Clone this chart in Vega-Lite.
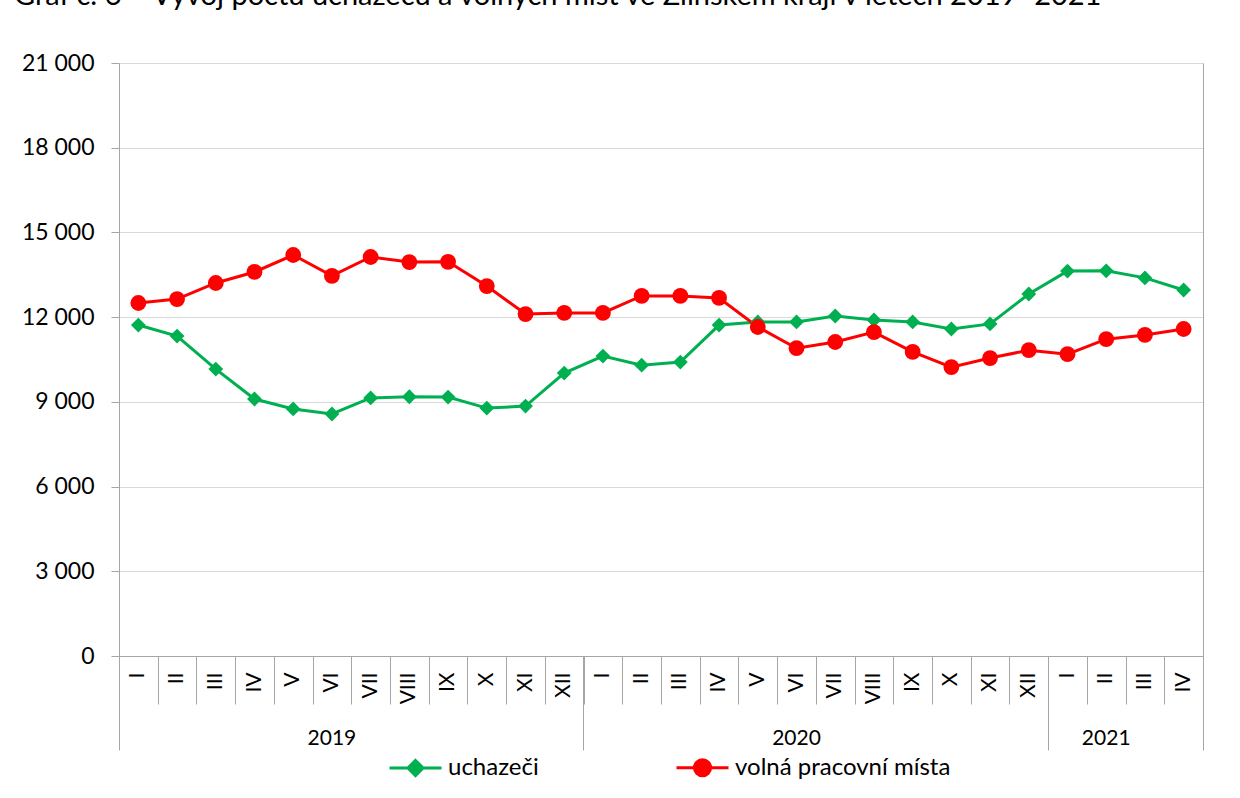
{
  "$schema": "https://vega.github.io/schema/vega-lite/v6.json",
  "width": 1084,
  "height": 593,
  "autosize": "none",
  "padding": {"left": 119, "top": 63, "right": 37, "bottom": 142},
  "background": "white",
  "title": {
    "text": "Graf č. 6 – Vývoj počtu uchazečů a volných míst ve Zlínském kraji v letech 2019–2021",
    "anchor": "start", "frame": "group", "dx": -105, "dy": -18, "offset": 0,
    "fontSize": 29, "font": "Lato", "fontWeight": "normal", "color": "black", "baseline": "alphabetic"
  },
  "config": {
    "view": {"stroke": null},
    "font": "Lato",
    "axis": {"domainColor": "#A6A6A6", "tickColor": "#A6A6A6", "labelColor": "black", "labelFont": "Lato", "title": null}
  },
  "data": {
    "values": [
      {"k": "2019-01", "s": "uchazeči", "v": 11720}, {"k": "2019-02", "s": "uchazeči", "v": 11330},
      {"k": "2019-03", "s": "uchazeči", "v": 10160}, {"k": "2019-04", "s": "uchazeči", "v": 9100},
      {"k": "2019-05", "s": "uchazeči", "v": 8750}, {"k": "2019-06", "s": "uchazeči", "v": 8570},
      {"k": "2019-07", "s": "uchazeči", "v": 9140}, {"k": "2019-08", "s": "uchazeči", "v": 9180},
      {"k": "2019-09", "s": "uchazeči", "v": 9170}, {"k": "2019-10", "s": "uchazeči", "v": 8780},
      {"k": "2019-11", "s": "uchazeči", "v": 8850}, {"k": "2019-12", "s": "uchazeči", "v": 10020},
      {"k": "2020-01", "s": "uchazeči", "v": 10620}, {"k": "2020-02", "s": "uchazeči", "v": 10300},
      {"k": "2020-03", "s": "uchazeči", "v": 10410}, {"k": "2020-04", "s": "uchazeči", "v": 11720},
      {"k": "2020-05", "s": "uchazeči", "v": 11830}, {"k": "2020-06", "s": "uchazeči", "v": 11830},
      {"k": "2020-07", "s": "uchazeči", "v": 12040}, {"k": "2020-08", "s": "uchazeči", "v": 11900},
      {"k": "2020-09", "s": "uchazeči", "v": 11830}, {"k": "2020-10", "s": "uchazeči", "v": 11580},
      {"k": "2020-11", "s": "uchazeči", "v": 11760}, {"k": "2020-12", "s": "uchazeči", "v": 12820},
      {"k": "2021-01", "s": "uchazeči", "v": 13630}, {"k": "2021-02", "s": "uchazeči", "v": 13640},
      {"k": "2021-03", "s": "uchazeči", "v": 13390}, {"k": "2021-04", "s": "uchazeči", "v": 12960},
      {"k": "2019-01", "s": "volná pracovní místa", "v": 12500}, {"k": "2019-02", "s": "volná pracovní místa", "v": 12640},
      {"k": "2019-03", "s": "volná pracovní místa", "v": 13210}, {"k": "2019-04", "s": "volná pracovní místa", "v": 13600},
      {"k": "2019-05", "s": "volná pracovní místa", "v": 14200}, {"k": "2019-06", "s": "volná pracovní místa", "v": 13460},
      {"k": "2019-07", "s": "volná pracovní místa", "v": 14130}, {"k": "2019-08", "s": "volná pracovní místa", "v": 13950},
      {"k": "2019-09", "s": "volná pracovní místa", "v": 13960}, {"k": "2019-10", "s": "volná pracovní místa", "v": 13100},
      {"k": "2019-11", "s": "volná pracovní místa", "v": 12110}, {"k": "2019-12", "s": "volná pracovní místa", "v": 12150},
      {"k": "2020-01", "s": "volná pracovní místa", "v": 12150}, {"k": "2020-02", "s": "volná pracovní místa", "v": 12750},
      {"k": "2020-03", "s": "volná pracovní místa", "v": 12750}, {"k": "2020-04", "s": "volná pracovní místa", "v": 12680},
      {"k": "2020-05", "s": "volná pracovní místa", "v": 11650}, {"k": "2020-06", "s": "volná pracovní místa", "v": 10900},
      {"k": "2020-07", "s": "volná pracovní místa", "v": 11120}, {"k": "2020-08", "s": "volná pracovní místa", "v": 11470},
      {"k": "2020-09", "s": "volná pracovní místa", "v": 10770}, {"k": "2020-10", "s": "volná pracovní místa", "v": 10230},
      {"k": "2020-11", "s": "volná pracovní místa", "v": 10550}, {"k": "2020-12", "s": "volná pracovní místa", "v": 10830},
      {"k": "2021-01", "s": "volná pracovní místa", "v": 10690}, {"k": "2021-02", "s": "volná pracovní místa", "v": 11220},
      {"k": "2021-03", "s": "volná pracovní místa", "v": 11370}, {"k": "2021-04", "s": "volná pracovní místa", "v": 11580}
    ]
  },
  "layer": [
    {
      "mark": {"type": "line", "strokeWidth": 3},
      "encoding": {
        "x": {"field": "k", "type": "nominal", "sort": "ascending",
          "scale": {"type": "band", "paddingInner": 0, "paddingOuter": 0},
          "axis": {"orient": "bottom", "ticks": false, "labelAngle": 270, "labelPadding": 16, "labelFontSize": 21,
            "labelExpr": "['I','II','III','IV','V','VI','VII','VIII','IX','X','XI','XII'][toNumber(slice(datum.value,5))-1]",
            "domain": true, "grid": false}},
        "y": {"field": "v", "type": "quantitative",
          "scale": {"domain": [0, 21000], "nice": false},
          "axis": {"orient": "left", "values": [0, 3000, 6000, 9000, 12000, 15000, 18000, 21000], "tickSize": 8, "labelPadding": 17,
            "labelFontSize": 23, "grid": true, "gridColor": "#D9D9D9",
            "labelExpr": "replace(format(datum.value, ','), ',', ' ')"}},
        "color": {"field": "s", "type": "nominal",
          "scale": {"domain": ["uchazeči", "volná pracovní místa"], "range": ["#00B050", "#FF0000"]},
          "legend": {"orient": "none", "legendX": 269, "legendY": 677, "direction": "horizontal", "title": null,
            "symbolSize": 2704, "symbolStrokeWidth": 3, "labelFontSize": 24, "labelFont": "Lato", "labelColor": "black",
            "labelLimit": 500, "columnPadding": 131, "labelOffset": 5,
            "encode": {"symbols": {"update": {
              "shape": {"signal": "datum.value === 'uchazeči' ? 'M-1,0L1,0M0,-0.29L0.29,0L0,0.29L-0.29,0Z' : 'M-1,0L1,0M-0.31,0A0.31,0.31,0,1,1,0.31,0A0.31,0.31,0,1,1,-0.31,0Z'"},
              "fill": {"signal": "datum.value === 'uchazeči' ? '#00B050' : '#FF0000'"},
              "stroke": {"signal": "datum.value === 'uchazeči' ? '#00B050' : '#FF0000'"},
              "opacity": {"value": 1}}}}}}
      }
    },
    {
      "transform": [{"filter": "datum.s === 'uchazeči'"}],
      "mark": {"type": "point", "filled": true, "opacity": 1, "shape": "diamond", "size": 220, "color": "#00B050"},
      "encoding": {
        "x": {"field": "k", "type": "nominal", "sort": "ascending",
          "axis": {"orient": "bottom", "labels": false, "domain": false, "grid": false, "tickBand": "extent", "tickSize": 48}},
        "y": {"field": "v", "type": "quantitative",
          "axis": {"orient": "right", "labels": false, "ticks": false, "grid": false, "domain": true}}
      }
    },
    {
      "transform": [{"filter": "datum.s === 'volná pracovní místa'"}],
      "mark": {"type": "point", "filled": true, "opacity": 1, "shape": "circle", "size": 250, "color": "#FF0000"},
      "encoding": {
        "x": {"field": "k", "type": "nominal", "sort": "ascending",
          "axis": {"orient": "bottom", "labels": false, "domain": false, "grid": false, "values": ["2019-01", "2020-01", "2021-01"], "bandPosition": 0, "tickSize": 94}},
        "y": {"field": "v", "type": "quantitative", "axis": null}
      }
    },
    {
      "mark": {"type": "point", "opacity": 0},
      "encoding": {
        "x": {"field": "k", "type": "nominal", "sort": "ascending",
          "axis": {"orient": "bottom", "labels": false, "domain": false, "grid": false, "values": ["2021-04"], "bandPosition": 1, "tickSize": 94}},
        "y": {"field": "v", "type": "quantitative", "axis": null}
      }
    },
    {
      "mark": {"type": "point", "opacity": 0},
      "encoding": {
        "x": {"field": "k", "type": "nominal", "sort": "ascending",
          "axis": {"orient": "bottom", "ticks": false, "domain": false, "grid": false, "values": ["2019-06", "2020-06", "2021-02"], "bandPosition": 1,
            "labelAngle": 0, "labelPadding": 71, "labelFontSize": 21, "labelExpr": "slice(datum.value, 0, 4)"}},
        "y": {"field": "v", "type": "quantitative", "axis": null}
      }
    }
  ],
  "resolve": {"axis": {"x": "independent", "y": "independent"}}
}
